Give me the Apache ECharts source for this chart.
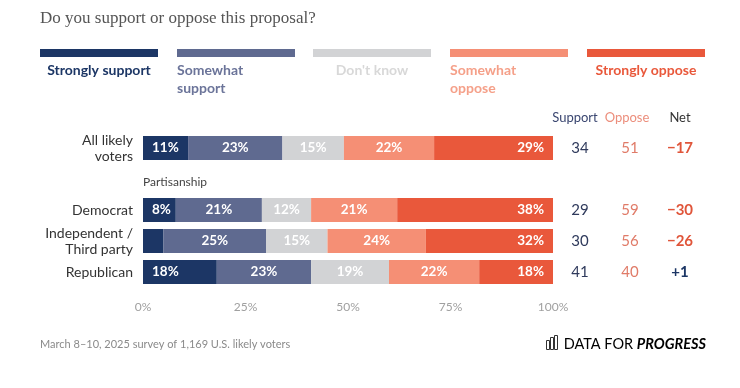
<!DOCTYPE html>
<html><head><meta charset="utf-8">
<script src="https://cdn.jsdelivr.net/npm/echarts@6/dist/echarts.min.js"></script>
<style>html,body{margin:0;padding:0;background:#fff}#c{width:740px;height:388px}</style>
</head><body><div id="c"></div>
<script>
const categories = ['All likely\nvoters', 'Partisanship', 'Democrat', 'Independent /\nThird party', 'Republican'];
const seriesNames = ['Strongly support', 'Somewhat support', "Don't know", 'Somewhat oppose', 'Strongly oppose'];
const legendLabels = ['Strongly support', 'Somewhat\nsupport', "Don't know", 'Somewhat\noppose', 'Strongly oppose'];
const stronglySupport = [11, null, 8, 5, 18];
const somewhatSupport = [23, null, 21, 25, 23];
const dontKnow = [15, null, 12, 15, 19];
const somewhatOppose = [22, null, 21, 24, 22];
const stronglyOppose = [29, null, 38, 32, 18];
const supportTotals = [34, null, 29, 30, 41];
const opposeTotals = [51, null, 59, 56, 40];
const netValues = ['\u221217', '', '\u221230', '\u221226', '+1'];
const xTicks = [0, 25, 50, 75, 100];

const colors = ['#1c3665', '#5f6a90', '#d2d3d5', '#f58f75', '#e9583b'];
const legendTextColors = ['#1c3665', '#6b7499', '#d8d8d8', '#f5a089', '#e9583b'];
const FONT = 'Lato';

const chart = echarts.init(document.getElementById('c'));
const allSeries = [stronglySupport, somewhatSupport, dontKnow, somewhatOppose, stronglyOppose];

const series = allSeries.map((d, i) => ({
  name: seriesNames[i],
  type: 'bar',
  stack: 'total',
  barWidth: 24,
  data: d,
  itemStyle: { color: colors[i] },
  emphasis: { disabled: true },
  label: {
    show: true,
    position: i === 0 ? 'insideLeft' : (i === 4 ? 'insideRight' : 'inside'),
    distance: 9,
    color: '#fff',
    fontFamily: FONT,
    fontWeight: 'bold',
    fontSize: 13.5,
    formatter: p => (p.value == null || p.value < 7) ? '' : p.value + '%'
  }
}));

const legendGraphics = [];
const legendX = [40, 177, 313, 450, 587];
const legendW = 118;
legendX.forEach((x, i) => {
  legendGraphics.push({ type: 'rect', x: x, y: 49, shape: { width: legendW, height: 8 }, style: { fill: colors[i] } });
  const twoLine = legendLabels[i].indexOf('\n') >= 0;
  legendGraphics.push({
    type: 'text',
    x: twoLine ? x : x + legendW / 2,
    y: 61,
    style: {
      text: legendLabels[i], fill: legendTextColors[i],
      font: 'bold 14px ' + FONT, lineHeight: 18,
      align: twoLine ? 'left' : 'center', verticalAlign: 'top'
    }
  });
});

function ctext(x, y, text, fill, font) {
  return { type: 'text', x: x, y: y, style: { text: text, fill: fill, font: font, align: 'center', verticalAlign: 'middle' } };
}

chart.setOption({
  animation: false,
  textStyle: { fontFamily: FONT },
  grid: { left: 143, width: 410, top: 132.5, height: 155 },
  xAxis: {
    type: 'value', min: 0, max: 100, interval: 25,
    axisLine: { show: false }, axisTick: { show: false }, splitLine: { show: false },
    axisLabel: { color: '#a0a0a0', fontSize: 12, margin: 14, formatter: v => v + '%' }
  },
  yAxis: [{
    type: 'category', data: categories, inverse: true,
    axisLine: { show: false }, axisTick: { show: false },
    axisLabel: {
      color: '#333', fontSize: 14, margin: 10, lineHeight: 16, align: 'right',
      formatter: v => v === 'Partisanship' ? '' : v
    }
  }, {
    type: 'category', data: categories, inverse: true, position: 'right',
    axisLine: { show: false }, axisTick: { show: false },
    axisLabel: {
      margin: 2,
      formatter: (v, idx) => supportTotals[idx] == null ? '' :
        '{s|' + supportTotals[idx] + '}{o|' + opposeTotals[idx] + '}{n' + (netValues[idx].charAt(0) === '+' ? 'p' : '') + '|' + netValues[idx] + '}',
      rich: {
        s: { width: 50, align: 'center', fontSize: 15, color: '#2f3a5c', fontFamily: FONT },
        o: { width: 50, align: 'center', fontSize: 15, color: '#e07b68', fontFamily: FONT },
        n: { width: 50, align: 'center', fontSize: 15, fontWeight: 'bold', color: '#e0553a', fontFamily: FONT },
        np: { width: 50, align: 'center', fontSize: 15, fontWeight: 'bold', color: '#1c3665', fontFamily: FONT }
      }
    }
  }],
  series: series,
  graphic: legendGraphics.concat([
    { type: 'text', x: 40, y: 19, style: { text: 'Do you support or oppose this proposal?', fill: '#555', font: '17px "Liberation Serif"', verticalAlign: 'middle' } },
    ctext(575, 118, 'Support', '#3a4670', '13px ' + FONT),
    ctext(627, 118, 'Oppose', '#ec8e7c', '13px ' + FONT),
    ctext(680, 118, 'Net', '#333', '13px ' + FONT),
    { type: 'text', x: 143, y: 182, style: { text: 'Partisanship', fill: '#444', font: '12px ' + FONT, verticalAlign: 'middle' } },
    { type: 'text', x: 40, y: 344, style: { text: 'March 8\u201310, 2025 survey of 1,169 U.S. likely voters', fill: '#8a8a8a', font: '11px ' + FONT, verticalAlign: 'middle' } },
    { type: 'rect', x: 546.5, y: 340.5, shape: { width: 3, height: 9 }, style: { fill: 'none', stroke: '#333', lineWidth: 1 } },
    { type: 'rect', x: 550.5, y: 337.5, shape: { width: 3, height: 12 }, style: { fill: 'none', stroke: '#333', lineWidth: 1 } },
    { type: 'rect', x: 554.5, y: 335.5, shape: { width: 3, height: 14 }, style: { fill: 'none', stroke: '#333', lineWidth: 1 } },
    { type: 'text', x: 706, y: 344, style: {
      text: '{a|DATA FOR }{b|PROGRESS}', align: 'right', verticalAlign: 'middle',
      rich: {
        a: { fontSize: 14.5, color: '#222', fontFamily: FONT },
        b: { fontSize: 14.5, color: '#111', fontWeight: 'bold', fontStyle: 'italic', fontFamily: FONT }
      }
    } }
  ])
});
</script></body></html>
